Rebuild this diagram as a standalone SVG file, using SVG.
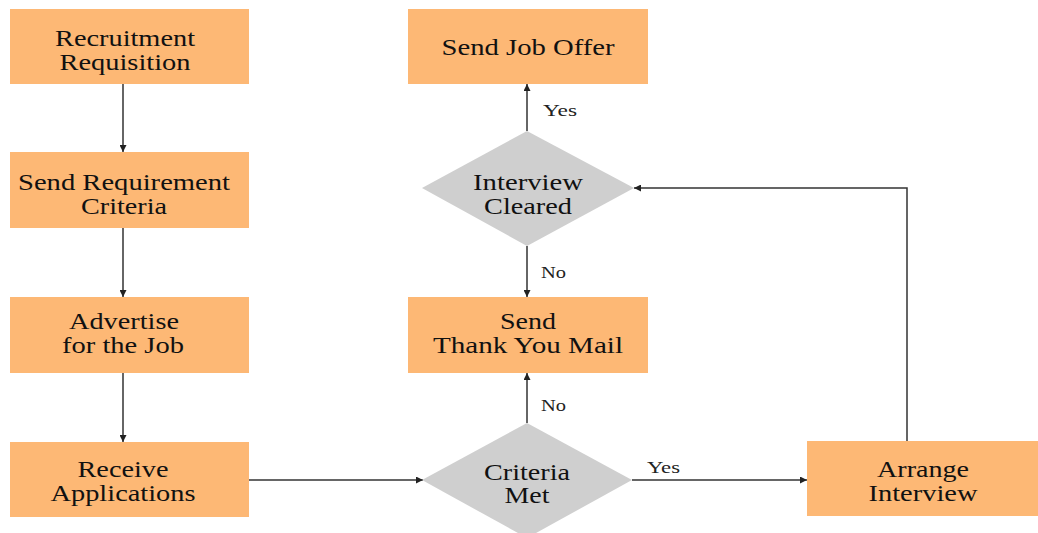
<svg xmlns="http://www.w3.org/2000/svg" width="1038" height="533" viewBox="0 0 1038 533">
<defs>
<style>
.box{fill:#FDB875;}
.dia{fill:#CFCFCF;}
.t{font-family:"Liberation Serif",serif;font-size:23px;fill:#111;text-anchor:middle;}
.l{font-family:"Liberation Serif",serif;font-size:17px;fill:#222;}
.c{stroke:#333;stroke-width:1.5;fill:none;marker-end:url(#ah);}
</style>
<marker id="ah" viewBox="0 0 10 10" refX="10" refY="5" markerWidth="7" markerHeight="7" markerUnits="userSpaceOnUse" orient="auto">
<path d="M0,0 L10,5 L0,10 z" fill="#222"/>
</marker>
</defs>
<rect width="1038" height="533" fill="#fff"/>
<g id="connectors">
<line class="c" x1="123" y1="84" x2="123" y2="152"/>
<line class="c" x1="123" y1="228" x2="123" y2="297"/>
<line class="c" x1="123" y1="373" x2="123" y2="442"/>
<line class="c" x1="249" y1="480" x2="423" y2="480"/>
<line class="c" x1="632" y1="480" x2="807" y2="480"/>
<line class="c" x1="527" y1="423" x2="527" y2="373"/>
<line class="c" x1="527" y1="246" x2="527" y2="297"/>
<line class="c" x1="527" y1="131" x2="527" y2="84"/>
<polyline class="c" points="907,441 907,188 634,188"/>
<text class="l" x="543" y="116" textLength="34" lengthAdjust="spacingAndGlyphs">Yes</text>
<text class="l" x="541" y="278" textLength="25" lengthAdjust="spacingAndGlyphs">No</text>
<text class="l" x="541" y="411" textLength="25" lengthAdjust="spacingAndGlyphs">No</text>
<text class="l" x="647" y="473" textLength="33" lengthAdjust="spacingAndGlyphs">Yes</text>
</g>
<g id="n1"><rect class="box" x="10" y="9" width="239" height="75"/><text class="t" x="125" y="46" textLength="140" lengthAdjust="spacingAndGlyphs">Recruitment</text><text class="t" x="125" y="70" textLength="131" lengthAdjust="spacingAndGlyphs">Requisition</text></g>
<g id="n2"><rect class="box" x="10" y="152" width="239" height="76"/><text class="t" x="124" y="190" textLength="212" lengthAdjust="spacingAndGlyphs">Send Requirement</text><text class="t" x="124" y="214" textLength="86" lengthAdjust="spacingAndGlyphs">Criteria</text></g>
<g id="n3"><rect class="box" x="10" y="297" width="239" height="76"/><text class="t" x="124" y="329" textLength="110" lengthAdjust="spacingAndGlyphs">Advertise</text><text class="t" x="123" y="353" textLength="122" lengthAdjust="spacingAndGlyphs">for the Job</text></g>
<g id="n4"><rect class="box" x="10" y="442" width="239" height="75"/><text class="t" x="123" y="477" textLength="91" lengthAdjust="spacingAndGlyphs">Receive</text><text class="t" x="123" y="501" textLength="145" lengthAdjust="spacingAndGlyphs">Applications</text></g>
<g id="n5"><rect class="box" x="408" y="9" width="240" height="75"/><text class="t" x="528" y="55" textLength="173" lengthAdjust="spacingAndGlyphs">Send Job Offer</text></g>
<g id="n6"><polygon class="dia" points="527,131 634,188 527,246 422,188"/><text class="t" x="528" y="190" textLength="110" lengthAdjust="spacingAndGlyphs">Interview</text><text class="t" x="528" y="214" textLength="88" lengthAdjust="spacingAndGlyphs">Cleared</text></g>
<g id="n7"><rect class="box" x="408" y="297" width="240" height="76"/><text class="t" x="528" y="329" textLength="56" lengthAdjust="spacingAndGlyphs">Send</text><text class="t" x="528" y="353" textLength="190" lengthAdjust="spacingAndGlyphs">Thank You Mail</text></g>
<g id="n8"><polygon class="dia" points="527,423 632,480 527,538 422,480"/><text class="t" x="527" y="480" textLength="86" lengthAdjust="spacingAndGlyphs">Criteria</text><text class="t" x="527" y="503" textLength="45" lengthAdjust="spacingAndGlyphs">Met</text></g>
<g id="n9"><rect class="box" x="807" y="441" width="231" height="75"/><text class="t" x="923" y="477" textLength="92" lengthAdjust="spacingAndGlyphs">Arrange</text><text class="t" x="923" y="501" textLength="109" lengthAdjust="spacingAndGlyphs">Interview</text></g>
</svg>
